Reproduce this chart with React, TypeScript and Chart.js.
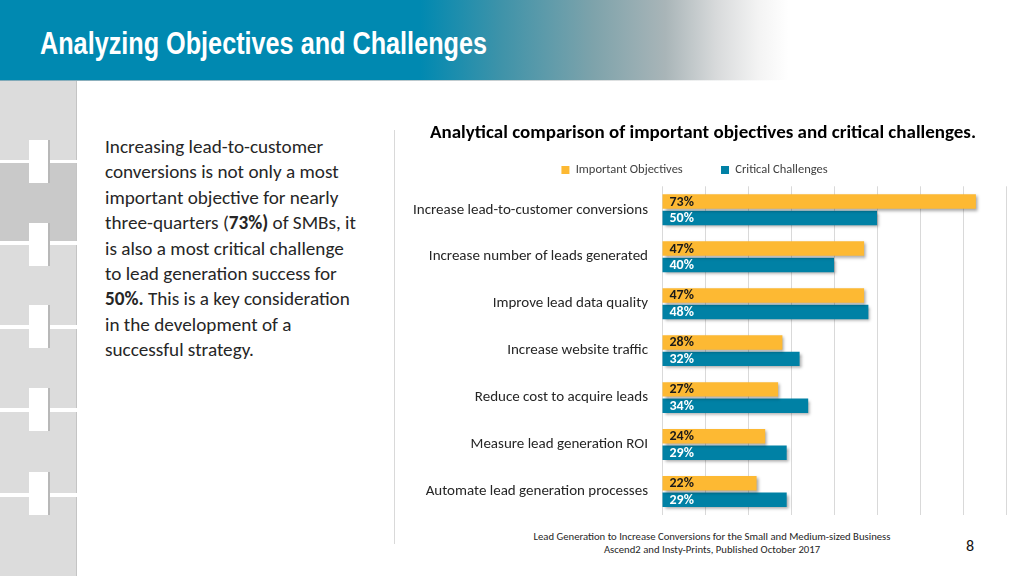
import React, { useEffect, useRef } from "react";
import { Chart, registerables } from "chart.js";

Chart.register(...registerables);

const categories = [
  "Increase lead-to-customer conversions",
  "Increase number of leads generated",
  "Improve lead data quality",
  "Increase website traffic",
  "Reduce cost to acquire leads",
  "Measure lead generation ROI",
  "Automate lead generation processes",
];
const importantObjectives = [73, 47, 47, 28, 27, 24, 22];
const criticalChallenges = [50, 40, 48, 32, 34, 29, 29];
const seriesNames = ["Important Objectives", "Critical Challenges"];
const xTicks = [0, 10, 20, 30, 40, 50, 60, 70, 80];

const YELLOW = "#FDB933";
const TEAL = "#0081A5";
const FONT = "Carlito, Lato, 'Open Sans', sans-serif";

const shadowPlugin = {
  id: "barShadow",
  beforeDatasetDraw(chart: any) {
    const c = chart.ctx;
    c.save();
    c.shadowColor = "rgba(0,0,0,0.35)";
    c.shadowBlur = 3;
    c.shadowOffsetX = 2;
    c.shadowOffsetY = 2;
  },
  afterDatasetDraw(chart: any) {
    chart.ctx.restore();
  },
};

const labelPlugin = {
  id: "barLabels",
  afterDatasetsDraw(chart: any) {
    const c = chart.ctx;
    c.save();
    c.font = `bold 14px ${FONT}`;
    c.textBaseline = "middle";
    c.textAlign = "left";
    chart.data.datasets.forEach((ds: any, di: number) => {
      const meta = chart.getDatasetMeta(di);
      meta.data.forEach((el: any, i: number) => {
        c.fillStyle = di === 0 ? "#1a1a1a" : "#ffffff";
        c.fillText(`${ds.data[i]}%`, el.base + 7, el.y + 0.5);
      });
    });
    c.restore();
  },
};

function BarChart() {
  const ref = useRef<HTMLCanvasElement | null>(null);
  useEffect(() => {
    if (!ref.current) return;
    const chart = new Chart(ref.current, {
      type: "bar",
      data: {
        labels: categories,
        datasets: [
          {
            label: seriesNames[0],
            data: importantObjectives,
            backgroundColor: YELLOW,
            categoryPercentage: 0.7,
            barPercentage: 0.88,
          },
          {
            label: seriesNames[1],
            data: criticalChallenges,
            backgroundColor: TEAL,
            categoryPercentage: 0.7,
            barPercentage: 0.88,
          },
        ],
      },
      options: {
        indexAxis: "y",
        animation: false,
        responsive: false,
        maintainAspectRatio: false,
        layout: { padding: { left: 0, right: 18, top: 1, bottom: 5 } },
        plugins: {
          title: {
            display: true,
            text: "Analytical comparison of important objectives and critical challenges.",
            color: "#000000",
            font: { family: FONT, size: 19, weight: "bold" },
            padding: { top: 6, bottom: 9 },
          },
          legend: {
            display: true,
            position: "top",
            labels: {
              boxWidth: 8,
              boxHeight: 8,
              padding: 10,
              color: "#404040",
              font: { family: FONT, size: 12.5 },
              generateLabels(ch: any) {
                const items = Chart.defaults.plugins.legend.labels.generateLabels(ch);
                return items.map((it: any, i: number) => ({
                  ...it,
                  lineWidth: 0,
                  text: it.text + "\u00a0".repeat(i < items.length - 1 ? 10 : 6),
                }));
              },
            },
          },
          tooltip: { enabled: false },
        },
        scales: {
          x: {
            min: 0,
            max: 80,
            afterBuildTicks(scale: any) {
              scale.ticks = xTicks.map((v) => ({ value: v }));
            },
            afterFit(scale: any) {
              scale.height = 0;
              scale.paddingLeft = 0;
              scale.paddingRight = 0;
            },
            ticks: { display: false },
            grid: { color: "#D9D9D9", lineWidth: 1, drawTicks: false },
            border: { display: false },
          },
          y: {
            ticks: {
              color: "#262626",
              font: { family: FONT, size: 15 },
              padding: 14,
            },
            grid: { display: false, drawTicks: false },
            border: { display: false },
            afterFit(scale: any) {
              scale.width = 262;
              scale.paddingTop = 0;
              scale.paddingBottom = 0;
            },
          },
        },
      },
      plugins: [shadowPlugin, labelPlugin],
    } as any);
    return () => chart.destroy();
  }, []);
  return <canvas ref={ref} width={624} height={405} style={{ position: "absolute", left: 400, top: 115, width: 624, height: 405 }} />;
}

const squares = [
  { top: 81, h: 79, c: "#DCDCDC" },
  { top: 163, h: 78, c: "#C9C9C9" },
  { top: 245, h: 80, c: "#DCDCDC" },
  { top: 329, h: 79, c: "#DCDCDC" },
  { top: 412, h: 81, c: "#DCDCDC" },
  { top: 497, h: 79, c: "#DCDCDC" },
];
const notches = [140, 223, 305, 388, 472];

export default function App() {
  return (
    <div style={{ position: "fixed", left: 0, top: 0, width: 1024, height: 576, background: "#fff", overflow: "hidden", fontFamily: FONT }}>
      <div
        style={{
          position: "absolute", left: 0, top: 0, width: 1024, height: 80,
          background: "linear-gradient(to right, #0089B1 0%, #0089B1 41%, #3f93a9 49%, #7ea3ab 58%, #a9b5b8 65%, #d8dadb 70%, #f3f3f3 74%, #ffffff 77%)",
        }}
      />
      <div style={{ position: "absolute", left: 0, top: 80, width: 780, height: 1, background: "linear-gradient(to right, #7fa9b8, #cfd3d4 70%, #fff)" }} />
      <div
        style={{
          position: "absolute", left: 40, top: 26, color: "#fff", fontSize: 32, fontWeight: "bold",
          fontFamily: "'Liberation Sans', Arial, sans-serif", whiteSpace: "nowrap", lineHeight: "34px",
          transform: "scaleX(0.788)", transformOrigin: "left center",
        }}
      >
        Analyzing Objectives and Challenges
      </div>
      {squares.map((s, i) => (
        <div key={i} style={{ position: "absolute", left: 0, top: s.top, width: 76, height: s.h, background: s.c, borderRight: "1px solid #c4c4c4" }} />
      ))}
      {notches.map((t, i) => (
        <div key={i} style={{ position: "absolute", left: 29, top: t, width: 19, height: 43, background: "#ffffff", borderRight: "2px solid #b8b8b8" }} />
      ))}
      <div
        style={{
          position: "absolute", left: 105, top: 134, width: 290, fontSize: 19.2, lineHeight: "25.4px",
          color: "#262626", whiteSpace: "pre",
        }}
      >
        {"Increasing lead-to-customer\nconversions is not only a most\nimportant objective for nearly\nthree-quarters ("}
        <b>73%)</b>
        {" of SMBs, it\nis also a most critical challenge\nto lead generation success for\n"}
        <b>50%.</b>
        {" This is a key consideration\nin the development of a\nsuccessful strategy."}
      </div>
      <div style={{ position: "absolute", left: 394, top: 130, width: 1, height: 414, background: "#D9D9D9" }} />
      <BarChart />
      <div
        style={{
          position: "absolute", left: 462, top: 530, width: 500, textAlign: "center", fontSize: 10.7,
          lineHeight: "13px", color: "#262626",
        }}
      >
        Lead Generation to Increase Conversions for the Small and Medium-sized Business
        <br />
        Ascend2 and Insty-Prints, Published October 2017
      </div>
      <div style={{ position: "absolute", left: 966, top: 536, fontSize: 16, color: "#111", lineHeight: "20px" }}>8</div>
    </div>
  );
}
